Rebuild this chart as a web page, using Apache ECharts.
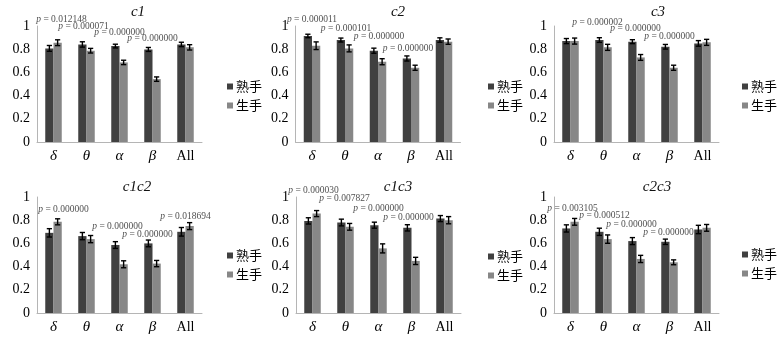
<!DOCTYPE html>
<html>
<head>
<meta charset="utf-8">
<script src="https://cdn.jsdelivr.net/npm/echarts@6/dist/echarts.min.js"></script>
<style>
html,body{margin:0;padding:0;background:#fff;}
#chart{width:780px;height:340px;}
</style>
</head>
<body>
<div id="chart"></div>
<script>
// ---------- data ----------
const categories = ['δ', 'θ', 'α', 'β', 'All'];
const panelNames = ['c1', 'c2', 'c3', 'c1c2', 'c1c3', 'c2c3'];
const seriesNames = ['熟手', '生手'];

const expert_c1   = [0.807, 0.841, 0.827, 0.798, 0.841];
const novice_c1   = [0.856, 0.787, 0.686, 0.542, 0.816];
const expertErr_c1 = [0.025, 0.023, 0.016, 0.017, 0.019];
const noviceErr_c1 = [0.025, 0.020, 0.019, 0.019, 0.023];

const expert_c2   = [0.914, 0.879, 0.787, 0.720, 0.879];
const novice_c2   = [0.830, 0.807, 0.692, 0.640, 0.865];
const expertErr_c2 = [0.015, 0.017, 0.022, 0.022, 0.019];
const noviceErr_c2 = [0.033, 0.030, 0.026, 0.022, 0.023];

const expert_c3   = [0.870, 0.879, 0.865, 0.821, 0.850];
const novice_c3   = [0.870, 0.816, 0.729, 0.640, 0.859];
const expertErr_c3 = [0.022, 0.020, 0.017, 0.020, 0.024];
const noviceErr_c3 = [0.026, 0.026, 0.025, 0.022, 0.026];

const expert_c1c2   = [0.691, 0.663, 0.586, 0.600, 0.700];
const novice_c1c2   = [0.786, 0.637, 0.420, 0.426, 0.749];
const expertErr_c1c2 = [0.036, 0.031, 0.029, 0.029, 0.037];
const noviceErr_c1c2 = [0.026, 0.031, 0.030, 0.027, 0.030];

const expert_c1c3   = [0.794, 0.780, 0.757, 0.734, 0.814];
const novice_c1c3   = [0.857, 0.743, 0.557, 0.449, 0.800];
const expertErr_c1c3 = [0.027, 0.029, 0.026, 0.027, 0.026];
const noviceErr_c1c3 = [0.026, 0.029, 0.039, 0.031, 0.031];

const expert_c2c3   = [0.729, 0.700, 0.620, 0.614, 0.720];
const novice_c2c3   = [0.786, 0.637, 0.466, 0.437, 0.734];
const expertErr_c2c3 = [0.031, 0.031, 0.030, 0.023, 0.036];
const noviceErr_c2c3 = [0.029, 0.036, 0.031, 0.021, 0.029];

// p-value annotations: category index and p text
const pCats_c1 = [0, 1, 2, 3];       const pVals_c1 = ['0.012148', '0.000071', '0.000000', '0.000000'];
const pCats_c2 = [0, 1, 2, 3];       const pVals_c2 = ['0.000011', '0.000101', '0.000000', '0.000000'];
const pCats_c3 = [1, 2, 3];          const pVals_c3 = ['0.000002', '0.000000', '0.000000'];
const pCats_c1c2 = [0, 2, 3, 4];     const pVals_c1c2 = ['0.000000', '0.000000', '0.000000', '0.018694'];
const pCats_c1c3 = [0, 1, 2, 3];     const pVals_c1c3 = ['0.000030', '0.007827', '0.000000', '0.000000'];
const pCats_c2c3 = [0, 1, 2, 3];     const pVals_c2c3 = ['0.003105', '0.000512', '0.000000', '0.000000'];

const yTicks = [0, 0.2, 0.4, 0.6, 0.8, 1];

// ---------- layout (positions / styles) ----------
// annotation heights in axis units, and small horizontal nudges in px
const pY_c1 = [1.06, 1.00, 0.94, 0.89];      const pDx_c1 = [8, -3, 0, 0];
const pY_c2 = [1.06, 0.98, 0.91, 0.81];      const pDx_c2 = [0, 1, 1, -3];
const pY_c3 = [1.03, 0.98, 0.91];            const pDx_c3 = [-6, -1, 0];
const pY_c1c2 = [0.89, 0.75, 0.68, 0.83];    const pDx_c1c2 = [10, -2, -5, 0];
const pY_c1c3 = [1.06, 0.99, 0.905, 0.82];   const pDx_c1c3 = [1, -1, 0, -3];
const pY_c2c3 = [0.905, 0.84, 0.76, 0.69];   const pDx_c2c3 = [2, 1, -5, -1];

const panels = [
  {e: expert_c1, n: novice_c1, ee: expertErr_c1, ne: noviceErr_c1, pc: pCats_c1, pv: pVals_c1, py: pY_c1, dx: pDx_c1},
  {e: expert_c2, n: novice_c2, ee: expertErr_c2, ne: noviceErr_c2, pc: pCats_c2, pv: pVals_c2, py: pY_c2, dx: pDx_c2},
  {e: expert_c3, n: novice_c3, ee: expertErr_c3, ne: noviceErr_c3, pc: pCats_c3, pv: pVals_c3, py: pY_c3, dx: pDx_c3},
  {e: expert_c1c2, n: novice_c1c2, ee: expertErr_c1c2, ne: noviceErr_c1c2, pc: pCats_c1c2, pv: pVals_c1c2, py: pY_c1c2, dx: pDx_c1c2},
  {e: expert_c1c3, n: novice_c1c3, ee: expertErr_c1c3, ne: noviceErr_c1c3, pc: pCats_c1c3, pv: pVals_c1c3, py: pY_c1c3, dx: pDx_c1c3},
  {e: expert_c2c3, n: novice_c2c3, ee: expertErr_c2c3, ne: noviceErr_c2c3, pc: pCats_c2c3, pv: pVals_c2c3, py: pY_c2c3, dx: pDx_c2c3}
];

const gridLeft = [37, 295.5, 554, 37, 296, 554];
const gridTop = [26, 26, 26, 197, 197, 197];
const gridW = 165, gridH = 116;
const titleX = [133, 393, 653, 132, 393, 652];
const titleTop = [0, 0, 0, 175, 175, 175];
const legendLeft = [222, 483, 737, 222, 483, 737];
const legendTop = [75, 75, 75, 244, 245, 243];

const DARK = '#404040';
const LIGHT = '#878787';
const AXIS = '#b5b5b5';
const SERIF = '"Liberation Serif","DejaVu Serif",serif';
const CJK = '"Noto Sans CJK SC","Noto Sans CJK JP",sans-serif';

const grids = [], xAxes = [], yAxes = [], series = [], titles = [], legends = [];

function errRender(side) {
  return function (params, api) {
    const x = api.value(0), y = api.value(1), e = api.value(2);
    const c = api.coord([x, y]);
    const band = api.size([1, 0])[0];
    const cx = c[0] + side * band * 0.125;
    const hi = api.coord([x, y + e])[1];
    const lo = api.coord([x, y - e])[1];
    const cap = 2.6;
    const st = {stroke: '#000', lineWidth: 1.4};
    return {
      type: 'group',
      children: [
        {type: 'line', shape: {x1: cx, y1: hi, x2: cx, y2: lo}, style: st},
        {type: 'line', shape: {x1: cx - cap, y1: hi, x2: cx + cap, y2: hi}, style: st},
        {type: 'line', shape: {x1: cx - cap, y1: lo, x2: cx + cap, y2: lo}, style: st}
      ]
    };
  };
}

panels.forEach((p, k) => {
  grids.push({left: gridLeft[k], top: gridTop[k], width: gridW, height: gridH, containLabel: false});
  xAxes.push({
    type: 'category', gridIndex: k, data: categories,
    axisLine: {lineStyle: {color: AXIS, width: 1}},
    axisTick: {show: false},
    axisLabel: {
      interval: 0,
      margin: 7,
      formatter: v => v === 'All' ? '{n|All}' : '{g|' + v + '}',
      rich: {
        g: {fontFamily: SERIF, fontStyle: 'italic', fontSize: 15, color: '#000'},
        n: {fontFamily: SERIF, fontSize: 14, color: '#000'}
      }
    }
  });
  yAxes.push({
    type: 'value', gridIndex: k, min: 0, max: 1, interval: 0.2,
    axisLine: {show: true, lineStyle: {color: AXIS, width: 1}},
    axisTick: {show: false},
    splitLine: {show: false},
    axisLabel: {
      margin: 7, fontFamily: SERIF, fontSize: 14, color: '#000',
      formatter: v => {
        const t = yTicks.find(tt => Math.abs(tt - v) < 1e-6);
        return t === undefined ? '' : String(t);
      }
    }
  });
  series.push({
    name: seriesNames[0], type: 'bar', xAxisIndex: k, yAxisIndex: k,
    data: p.e, barWidth: '25%', barGap: '0%',
    itemStyle: {color: DARK}, emphasis: {disabled: true}, animation: false
  });
  series.push({
    name: seriesNames[1], type: 'bar', xAxisIndex: k, yAxisIndex: k,
    data: p.n, barWidth: '25%', barGap: '0%',
    itemStyle: {color: LIGHT}, emphasis: {disabled: true}, animation: false
  });
  series.push({
    name: 'err-e-' + k, type: 'custom', xAxisIndex: k, yAxisIndex: k, z: 5,
    renderItem: errRender(-1), animation: false, silent: true,
    data: p.e.map((v, i) => [i, v, p.ee[i]])
  });
  series.push({
    name: 'err-n-' + k, type: 'custom', xAxisIndex: k, yAxisIndex: k, z: 5,
    renderItem: errRender(1), animation: false, silent: true,
    data: p.n.map((v, i) => [i, v, p.ne[i]])
  });
  series.push({
    name: 'p-' + k, type: 'scatter', xAxisIndex: k, yAxisIndex: k, z: 6,
    symbolSize: 0, clip: false, animation: false, silent: true,
    data: p.pc.map((c, i) => ({value: [c, p.py[i]], pv: p.pv[i], label: {offset: [p.dx[i], 0]}})),
    label: {
      show: true, position: 'inside',
      formatter: prm => '{i|p} = ' + prm.data.pv,
      fontFamily: SERIF, fontSize: 9.5, color: '#222',
      rich: {i: {fontFamily: SERIF, fontStyle: 'italic', fontSize: 9.5, color: '#222'}}
    }
  });
  titles.push({
    text: panelNames[k], left: titleX[k], top: titleTop[k], textAlign: 'center',
    textStyle: {fontFamily: SERIF, fontStyle: 'italic', fontWeight: 'normal', fontSize: 15, color: '#111'}
  });
  legends.push({
    data: seriesNames, orient: 'vertical', left: legendLeft[k], top: legendTop[k],
    icon: 'rect', itemWidth: 6, itemHeight: 6, itemGap: 6,
    textStyle: {fontFamily: CJK, fontSize: 13, color: '#000', padding: [0, 0, 0, -2]},
    selectedMode: false
  });
});

const chart = echarts.init(document.getElementById('chart'), null, {renderer: 'canvas'});
chart.setOption({
  animation: false,
  backgroundColor: '#fff',
  title: titles,
  legend: legends,
  grid: grids,
  xAxis: xAxes,
  yAxis: yAxes,
  series: series
});
</script>
</body>
</html>
